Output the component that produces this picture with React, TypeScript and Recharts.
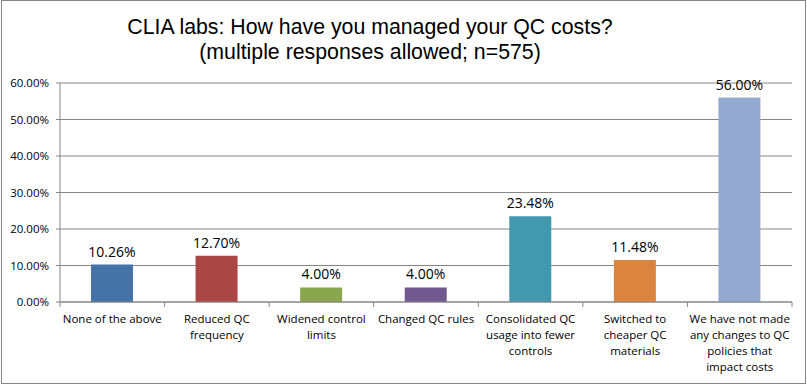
import React from 'react';
import { BarChart, Bar, XAxis, YAxis, CartesianGrid, LabelList, Cell } from 'recharts';

const categories = [
  'None of the above',
  'Reduced QC\nfrequency',
  'Widened control\nlimits',
  'Changed QC rules',
  'Consolidated QC\nusage into fewer\ncontrols',
  'Switched to\ncheaper QC\nmaterials',
  'We have not made\nany changes to QC\npolicies that\nimpact costs',
];
const shares = [0.1026, 0.127, 0.04, 0.04, 0.2348, 0.1148, 0.56];
const yTicks = [0, 0.1, 0.2, 0.3, 0.4, 0.5, 0.6];
const barColors = ['#4572A7', '#AA4643', '#89A54E', '#71588F', '#4198AF', '#DB843D', '#93A9CF'];

const data = categories.map((name, i) => ({ name, value: shares[i] }));

const pct = (v: number) => `${(v * 100).toFixed(2)}%`;

const W = 807;
const H = 385;
const M = { top: 83, right: 15, bottom: 0, left: 0 };
const Y_W = 60;
const BAND = (W - M.left - M.right - Y_W) / categories.length;

const CategoryTick = (props: any) => {
  const { x, y, payload, index } = props;
  const lines = String(payload.value).split('\n');
  const top = y - 8;
  return (
    <g>
      <line x1={x - BAND / 2} x2={x - BAND / 2} y1={top} y2={top + 5} stroke="#868686" />
      {index === categories.length - 1 && (
        <line x1={x + BAND / 2} x2={x + BAND / 2} y1={top} y2={top + 5} stroke="#868686" />
      )}
      <text x={x} y={y + 13} textAnchor="middle" fill="#000" fontSize={11.5} fontFamily="'Open Sans', sans-serif">
        {lines.map((l, i) => (
          <tspan key={i} x={x} dy={i === 0 ? 0 : 16}>
            {l}
          </tspan>
        ))}
      </text>
    </g>
  );
};

export default function App() {
  return (
    <div style={{ position: 'absolute', left: 0, top: 0, width: W, height: H, background: '#fff' }}>
      <div
        style={{
          position: 'absolute',
          left: 1,
          top: 0,
          width: 803,
          height: 382,
          border: '1px solid #868686',
        }}
      />
      <div
        style={{
          position: 'absolute',
          left: 0,
          top: 15,
          width: 740,
          textAlign: 'center',
          fontFamily: "'Liberation Sans', Arial, sans-serif",
          fontSize: 21.3,
          lineHeight: '25px',
          color: '#000',
        }}
      >
        CLIA labs: How have you managed your QC costs?
        <br />
        (multiple responses allowed; n=575)
      </div>
      <BarChart
        width={W}
        height={H}
        data={data}
        margin={M}
        barSize={42}
        style={{ position: 'absolute', left: 0, top: 0 }}
      >
        <CartesianGrid vertical={false} stroke="#868686" strokeWidth={1} />
        <YAxis
          type="number"
          domain={[0, 0.6]}
          ticks={yTicks}
          tickFormatter={pct}
          width={Y_W}
          axisLine={{ stroke: '#868686' }}
          tickLine={{ stroke: '#868686' }}
          tickSize={4}
          tickMargin={7}
          tick={{ fill: '#000', fontSize: 11.5, fontFamily: "'Open Sans', sans-serif" }}
          interval={0}
        />
        <XAxis
          dataKey="name"
          interval={0}
          height={83}
          axisLine={{ stroke: '#868686' }}
          tickLine={false}
          tick={<CategoryTick />}
        />
        <Bar dataKey="value" isAnimationActive={false}>
          {data.map((d, i) => (
            <Cell key={d.name} fill={barColors[i]} />
          ))}
          <LabelList
            dataKey="value"
            position="top"
            formatter={(v: any) => pct(Number(v))}
            fill="#000"
            fontSize={14}
            fontFamily="'Open Sans', sans-serif"
            offset={8}
          />
        </Bar>
      </BarChart>
    </div>
  );
}
